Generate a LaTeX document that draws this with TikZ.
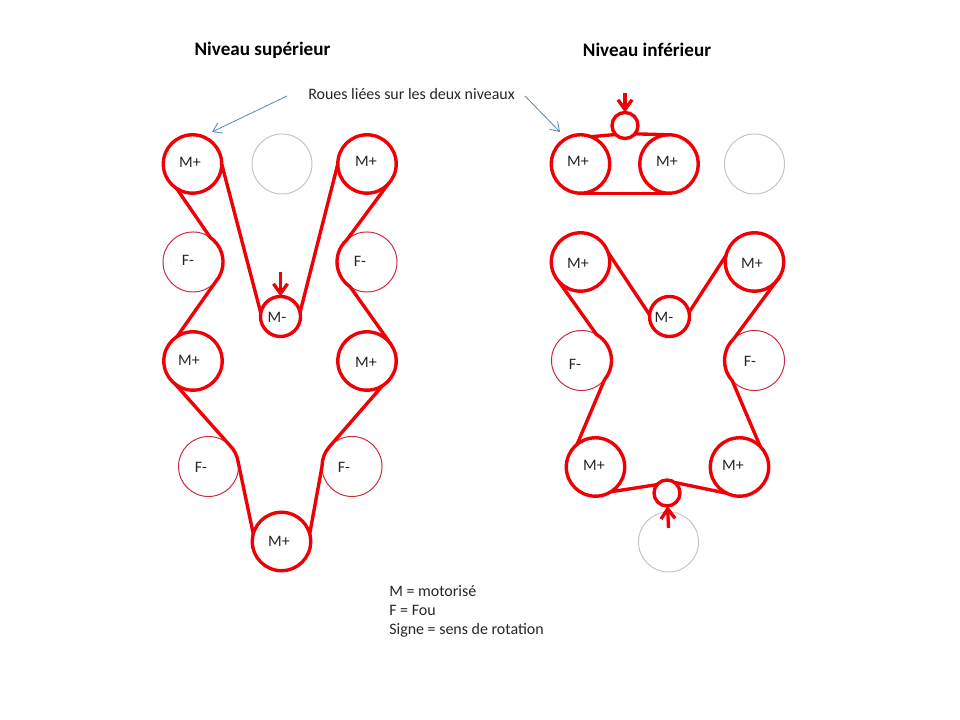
\documentclass[tikz,border=0pt]{standalone}
\usepackage{fontspec}
\setmainfont{Carlito}
\usetikzlibrary{arrows.meta}
\definecolor{beltred}{RGB}{238,0,6}
\definecolor{thinred}{RGB}{205,40,60}
\definecolor{idlegrey}{RGB}{196,196,196}
\definecolor{noteblue}{RGB}{90,135,185}
\tikzset{
	motor/.style={circle,draw=beltred,line width=2.4pt,inner sep=0,outer sep=0,minimum size=1.46cm},
	small/.style={motor,minimum size=#1},
	idler/.style={circle,draw=thinred,line width=0.7pt,inner sep=0,outer sep=0,minimum size=1.5cm},
	spare/.style={idler,draw=idlegrey},
	belt/.style={draw=beltred,line width=2.4pt,line join=round},
	push/.style={draw=beltred,line width=2.4pt,-{Straight Barb[length=7pt,width=10pt,line width=2.4pt]}},
	note/.style={draw=noteblue,line width=0.6pt,-{Straight Barb[length=6pt,width=8pt,line width=0.6pt]}},
	txt/.style={font=\fontsize{11.35pt}{13pt}\selectfont,text=black!85,inner sep=0},
	title/.style={font=\fontsize{13.6pt}{15pt}\selectfont\bfseries,text=black,inner sep=0}
}
\begin{document}
\begin{tikzpicture}[x=0.025cm,y=0.025cm]
	\useasboundingbox (0,0) rectangle (960,720);

	\node[title] (titleup) at (262.5,669.5) {Niveau supérieur};
	\node[title] (titledown) at (647,670) {Niveau inférieur};
	\node[txt,anchor=west] (linked) at (308,625.5) {Roues liées sur les deux niveaux};
	\node[txt,anchor=west] (keym) at (389,128.5) {M = motorisé};
	\node[txt,anchor=west] (keyf) at (389,109.5) {F = Fou};
	\node[txt,anchor=west] (keys) at (389,90) {Signe = sens de rotation};

	\node[motor] (upa) at (192.5,556) {};
	\node[spare] (upb) at (282,556) {};
	\node[motor] (upc) at (367,556) {};
	\node[idler] (upd) at (193,458) {};
	\node[idler] (upe) at (367,458) {};
	\node[small=1cm] (upf) at (280.5,403.5) {};
	\node[motor] (upg) at (193,359) {};
	\node[motor] (uph) at (367,359) {};
	\node[idler] (upi) at (208.5,253.5) {};
	\node[idler] (upj) at (352,253.5) {};
	\node[motor] (upk) at (281.5,178.5) {};

	\node[txt] (upatxt) at (190,557.5) {M+};
	\node[txt] (upctxt) at (366,558.5) {M+};
	\node[txt] (updtxt) at (188,459.5) {F-};
	\node[txt] (upetxt) at (360,458.5) {F-};
	\node[txt] (upftxt) at (277,402.5) {M-};
	\node[txt] (upgtxt) at (189,359.5) {M+};
	\node[txt] (uphtxt) at (366,357.5) {M+};
	\node[txt] (upitxt) at (201,252.5) {F-};
	\node[txt] (upjtxt) at (344,252.5) {F-};
	\node[txt] (upktxt) at (279,178.5) {M+};

	\draw[belt] (upa.237) -- (upd.55) arc[start angle=55,end angle=-40,radius=0.75cm] -- (upg.123);
	\draw[belt] (upc.-45) -- (upe.132) arc[start angle=132,end angle=236,radius=0.75cm] -- (uph.36);
	\draw[belt] (upa.0) -- (upf.170);
	\draw[belt] (upf.12) -- (upc.180);
	\draw[belt] (upg.233) -- (upi.45) arc[start angle=45,end angle=8,radius=0.75cm] -- (upk.165);
	\draw[belt] (upk.15) -- (upj.180) arc[start angle=180,end angle=138,radius=0.75cm] -- (uph.-58);

	\coordinate (upfree) at (280.5,448);
	\draw[push] (upfree) -- (upf);

	\node[motor] (downa) at (580.5,556) {};
	\node[motor] (downb) at (669,556) {};
	\node[spare] (downc) at (754.5,556) {};
	\node[small=0.65cm] (downd) at (625,594.5) {};
	\node[motor] (downe) at (580.5,458) {};
	\node[motor] (downf) at (754.5,458) {};
	\node[small=1cm] (downg) at (669.5,403.5) {};
	\node[idler] (downh) at (581.5,359.5) {};
	\node[idler] (downi) at (754.5,359.5) {};
	\node[motor] (downj) at (595.5,253) {};
	\node[motor] (downk) at (739.5,253) {};
	\node[small=0.65cm] (downl) at (667,227) {};
	\node[spare] (downm) at (668.5,178) {};

	\node[txt] (downatxt) at (578,558.5) {M+};
	\node[txt] (downbtxt) at (667,558.5) {M+};
	\node[txt] (downetxt) at (578,456.5) {M+};
	\node[txt] (downftxt) at (752,456.5) {M+};
	\node[txt] (downgtxt) at (664,402.5) {M-};
	\node[txt] (downhtxt) at (575,355.5) {F-};
	\node[txt] (downitxt) at (750,358.5) {F-};
	\node[txt] (downjtxt) at (594,254.5) {M+};
	\node[txt] (downktxt) at (733,254.5) {M+};

	\draw[belt] (downa.69) -- (downd.224);
	\draw[belt] (downd.-40) -- (downb.90);
	\draw[belt] (downa.270) -- (downb.270);
	\draw[belt] (downe.19) -- (downg.175);
	\draw[belt] (downg.12) -- (downf.167);
	\draw[belt] (downe.222) -- (downh.60) arc[start angle=60,end angle=-40,radius=0.75cm] -- (downj.129);
	\draw[belt] (downf.-29) -- (downi.134) arc[start angle=134,end angle=222,radius=0.75cm] -- (downk.45);
	\draw[belt] (downj.-58) -- (downl.140);
	\draw[belt] (downl.54) -- (downk.244);

	\coordinate (downfreea) at (625,627);
	\coordinate (downfreeb) at (668.5,192);
	\draw[push] (downfreea) -- (downd);
	\draw[push] (downfreeb) -- (downl);

	\coordinate (notea) at (287,624);
	\coordinate (noteb) at (525,624);
	\coordinate (notec) at (212,588);
	\coordinate (noted) at (560,588);
	\draw[note] (notea) -- (notec);
	\draw[note] (noteb) -- (noted);
\end{tikzpicture}
\end{document}
